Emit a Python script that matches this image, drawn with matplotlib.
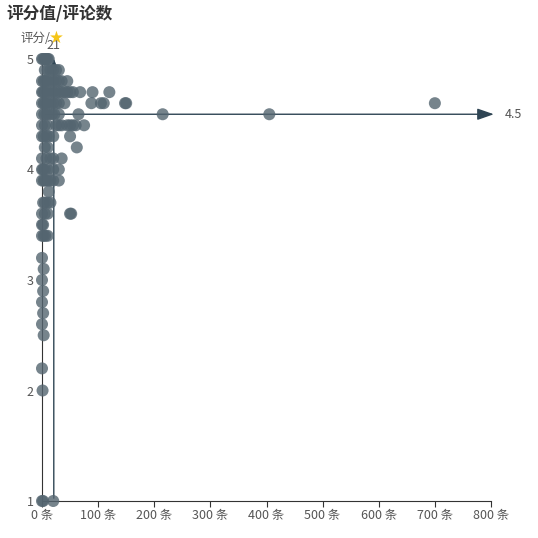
import matplotlib.pyplot as plt

plt.rcParams['font.family'] = ['Noto Sans CJK SC', 'DejaVu Sans']

# (评论数, 评分)
reviews = [0, 2, 5, 8, 10, 12,
           5, 10, 15, 20, 25, 30,
           0, 3, 6, 10, 15, 20, 25, 30, 35, 45,
           0, 2, 5, 10, 15, 20, 25, 30, 35, 40, 45, 50, 55, 68, 90, 120,
           0, 3, 6, 10, 15, 20, 25, 30, 40, 88, 105, 110, 148, 150, 700,
           0, 4, 8, 12, 18, 22, 30, 65, 215, 405,
           0, 5, 10, 25, 30, 35, 45, 50, 55, 60, 75,
           0, 3, 8, 12, 20, 50,
           5, 10, 62,
           0, 8, 15, 20, 35,
           0, 2, 5, 10, 20, 30,
           0, 3, 6, 10, 15, 20, 30,
           12,
           2, 5, 10, 15,
           0, 5, 10, 50, 52,
           0, 2,
           0, 3, 6, 10,
           0, 3, 0, 2, 0, 2, 0, 3, 0, 1, 2, 0, 20]
scores = [5.0]*6 + [4.9]*6 + [4.8]*10 + [4.7]*16 + [4.6]*15 + [4.5]*10 + [4.4]*11 + \
         [4.3]*6 + [4.2]*3 + [4.1]*5 + [4.0]*6 + [3.9]*7 + [3.8] + [3.7]*4 + [3.6]*5 + \
         [3.5]*2 + [3.4]*4 + [3.2, 3.1, 3.0, 2.9, 2.8, 2.7, 2.6, 2.5, 2.2, 2.0, 1.0, 1.0, 1.0]
mean_reviews = 21
mean_score = 4.5

fig = plt.figure(figsize=(5.38, 5.38), dpi=100)
ax = fig.add_axes([42/538, 37/538, 449/538, 442/538])
ax.scatter(reviews, scores, s=75, c='#546570', alpha=0.8, edgecolors='none', zorder=3, clip_on=False)

ax.set_xlim(0, 800)
ax.set_ylim(1, 5)
ax.set_xticks(range(0, 801, 100))
ax.set_xticklabels([f'{v} 条' for v in range(0, 801, 100)], color='#555', fontsize=9)
ax.set_yticks([1, 2, 3, 4, 5])
ax.set_yticklabels(['1', '2', '3', '4', '5'], color='#555', fontsize=9)
ax.tick_params(axis='y', length=0, pad=6)
ax.tick_params(axis='x', length=4, color='#333', pad=2)
for s in ['top', 'right']:
    ax.spines[s].set_visible(False)
ax.spines['left'].set_color('#333')
ax.spines['bottom'].set_color('#333')

# mark lines
ax.annotate('', xy=(mean_reviews, 5.03), xytext=(mean_reviews, 1),
            arrowprops=dict(arrowstyle='-|>,head_length=0.5,head_width=0.2', color='#2f4554', lw=1),
            annotation_clip=False, zorder=2)
ax.text(mean_reviews, 5.06, str(mean_reviews), ha='center', va='bottom', fontsize=9, color='#555')
ax.annotate('', xy=(810, mean_score), xytext=(0, mean_score),
            arrowprops=dict(arrowstyle='-|>,head_length=1.0,head_width=0.35', color='#2f4554', lw=1),
            annotation_clip=False, zorder=2)
ax.text(825, mean_score, str(mean_score), ha='left', va='center', fontsize=9, color='#555')

fig.text(6/538, 1 - 14/538, '评分值/评论数', fontsize=12, fontweight='bold', color='#333', va='center')
fig.text(20/538, 1 - 38/538, '评分/', fontsize=9, color='#555', va='center')
fig.text(56/538, 1 - 38/538, '★', fontsize=12, color='#f5c518', va='center', ha='center', family='DejaVu Sans')

fig.savefig('out.png', dpi=100)
